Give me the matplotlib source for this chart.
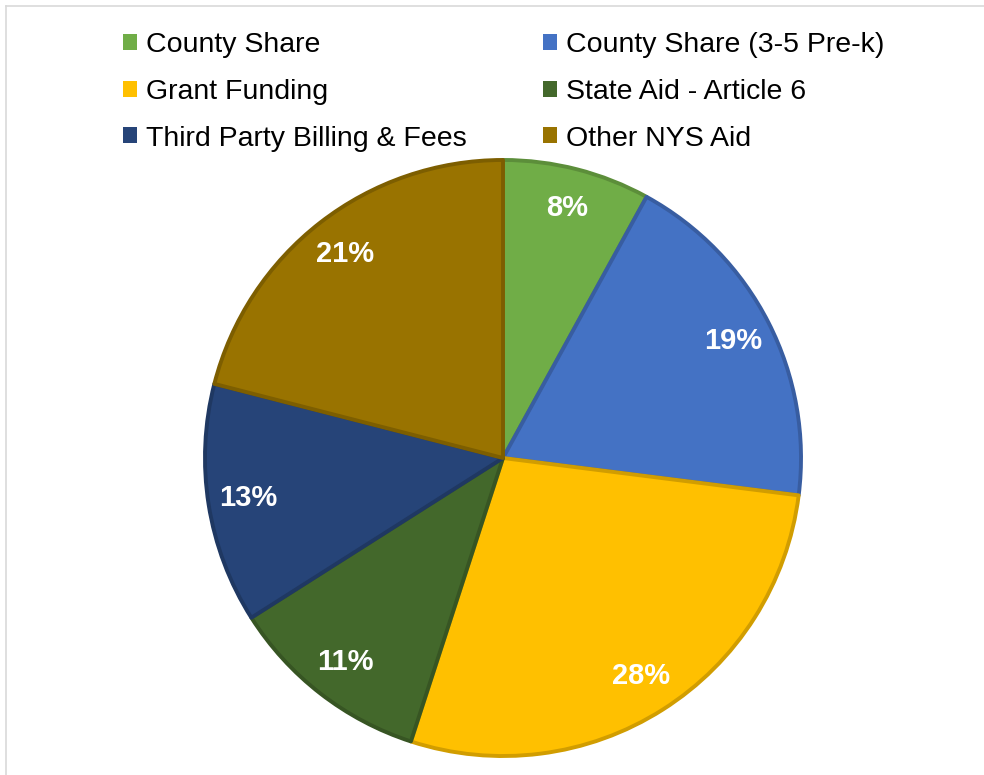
import matplotlib
matplotlib.use("Agg")
import matplotlib.pyplot as plt
from matplotlib.lines import Line2D
import matplotlib.colors as mcolors

plt.rcParams['font.family'] = ['Liberation Sans', 'DejaVu Sans']

categories = ["County Share", "County Share (3-5 Pre-k)", "Grant Funding",
              "State Aid - Article 6", "Third Party Billing & Fees", "Other NYS Aid"]
values = [8, 19, 28, 11, 13, 21]
colors = ["#70AD47", "#4472C4", "#FFC000", "#43682B", "#264478", "#997300"]

def darker(c, f=0.85):
    r, g, b = mcolors.to_rgb(c)
    return (r * f, g * f, b * f)

W, H = 984, 775
fig = plt.figure(figsize=(W / 100, H / 100), dpi=100)

# pie axes: centre (503, 458), radius 301 px
R = 301
cx, cy = 503, 458
ax = fig.add_axes([(cx - R) / W, (H - cy - R) / H, 2 * R / W, 2 * R / H])
wedges, texts, autotexts = ax.pie(
    values, colors=colors, startangle=90, counterclock=False, radius=1,
    autopct=lambda p: f"{p:.0f}%", pctdistance=0.865,
    wedgeprops=dict(linewidth=2.8, joinstyle='round'),
    textprops=dict(color='white', fontsize=21, fontweight='bold'))
for w, c in zip(wedges, colors):
    w.set_edgecolor(darker(c, 0.82))
ax.set_xlim(-1.01, 1.01)
ax.set_ylim(-1.01, 1.01)
ax.set_aspect('equal')
ax.axis('off')

# legends: two columns, row-wise order
fs = 20.5
common = dict(frameon=False, fontsize=fs, handlelength=0.49, handleheight=0.49,
              handletextpad=0.33, labelspacing=0.73, borderpad=0, borderaxespad=0,
              loc='upper left')
left_idx = [0, 2, 4]
right_idx = [1, 3, 5]
leg1 = fig.legend([wedges[i] for i in left_idx], [categories[i] for i in left_idx],
                  bbox_to_anchor=(123 / W, 1 - 32 / H), **common)
leg2 = fig.legend([wedges[i] for i in right_idx], [categories[i] for i in right_idx],
                  bbox_to_anchor=(543 / W, 1 - 32 / H), **common)
for leg in (leg1, leg2):
    for h in leg.legend_handles:
        h.set_edgecolor('none')

# screenshot frame lines
fig.add_artist(Line2D([6 / W, 1], [1 - 6 / H, 1 - 6 / H], color='#d9d9d9', lw=1.2,
                      transform=fig.transFigure))
fig.add_artist(Line2D([6 / W, 6 / W], [0, 1 - 6 / H], color='#d9d9d9', lw=1.2,
                      transform=fig.transFigure))

fig.savefig("out.png", dpi=100)
